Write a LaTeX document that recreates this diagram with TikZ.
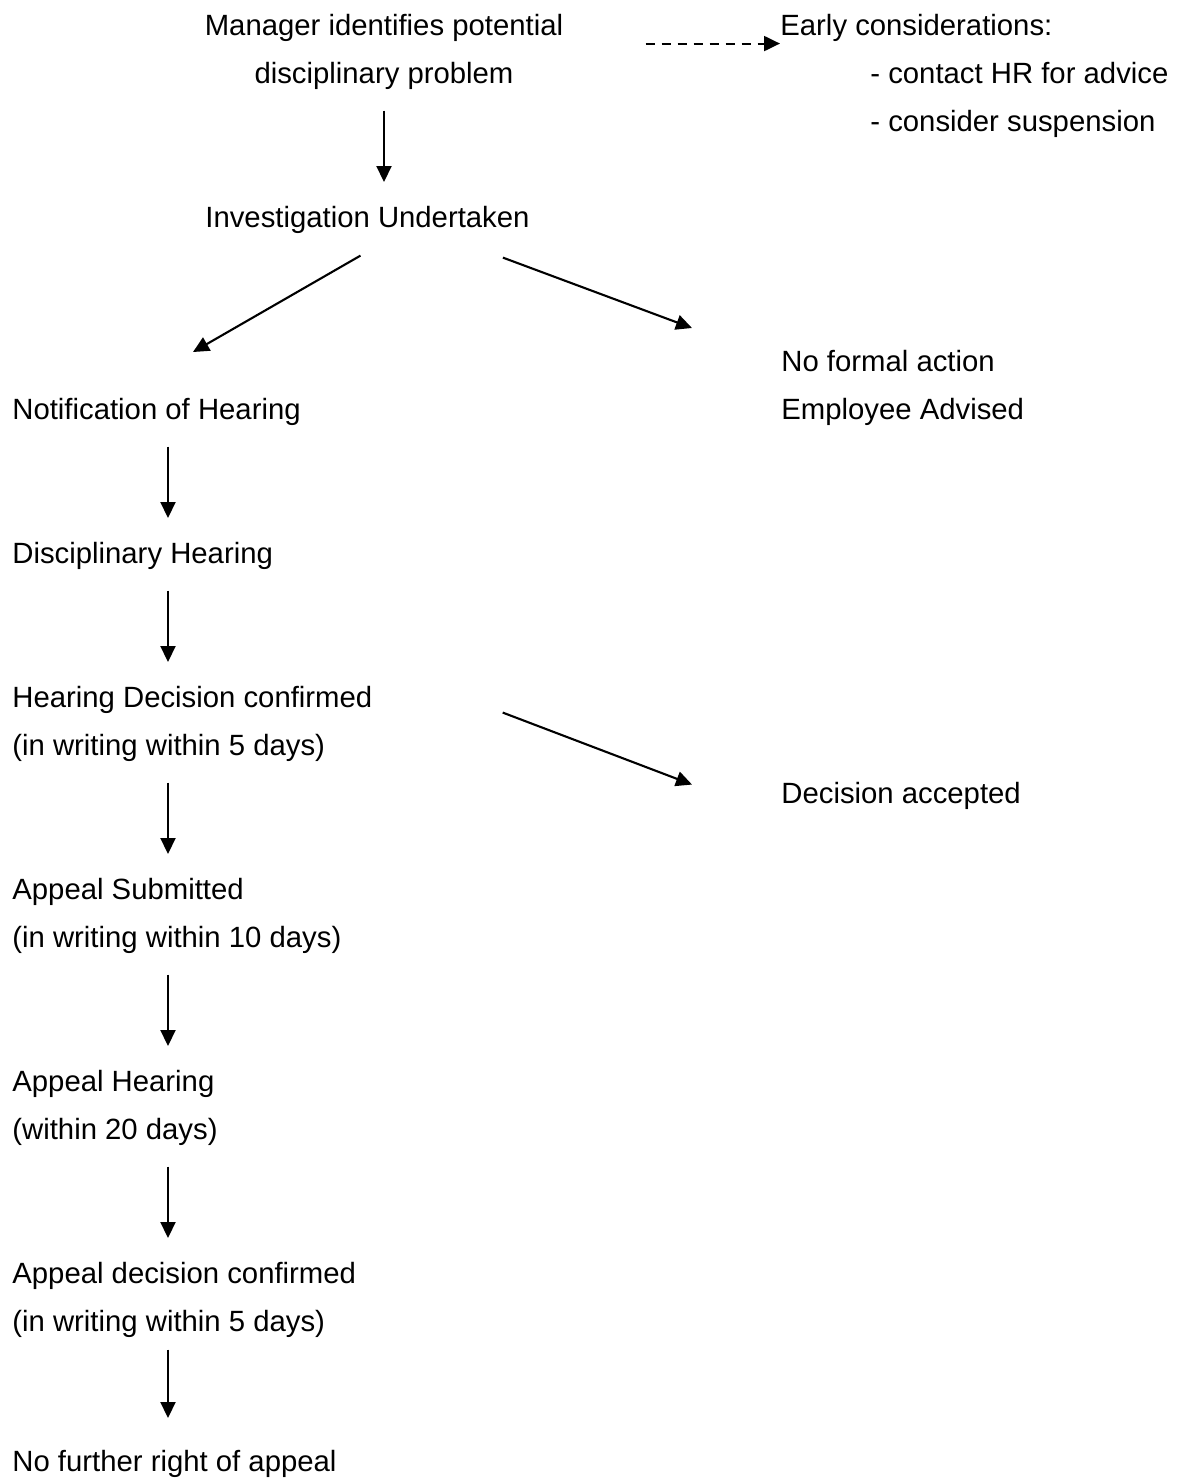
\documentclass[tikz,border=0pt]{standalone}
\usepackage{fontspec}
\setmainfont{Liberation Sans}
\usetikzlibrary{arrows.meta}

\tikzset{
  txt/.style={inner sep=0pt, anchor=north west, align=left, font=\fontsize{14.65pt}{24pt}\selectfont},
  arr/.style={-{Triangle[length=8pt,width=7.5pt]}, line width=1.05pt},
  down/.style={arr, shorten <=10.5pt, shorten >=11.75pt},
  dasharr/.style={arr, dash pattern=on 4.5pt off 3.5pt}
}

\begin{document}
\begin{tikzpicture}[x=0.5pt, y=-0.5pt]
        \useasboundingbox (0,0) rectangle (1184,1479);

        % start of the procedure
        \node[txt, anchor=north, align=center] (mgr) at (384,13.5) {Manager identifies potential\\disciplinary problem};
        \node[txt] (early) at (780,13.5) {Early considerations:\\\hspace*{45pt}- contact HR for advice\\\hspace*{45pt}- consider suspension};
        \node[txt] (inv) at (205,205.5) {Investigation Undertaken};

        % outcomes of the investigation
        \node[txt] (notif) at (12,397.5) {Notification of Hearing};
        \node[txt] (nfa) at (781,349.5) {No formal action\\Employee Advised};

        % hearing and appeal
        \node[txt] (disc) at (12,541.5) {Disciplinary Hearing};
        \node[txt] (hdec) at (12,685.5) {Hearing Decision confirmed\\(in writing within 5 days)};
        \node[txt] (dacc) at (781,781.5) {Decision accepted};
        \node[txt] (asub) at (12,877.5) {Appeal Submitted\\(in writing within 10 days)};
        \node[txt] (ahear) at (12,1069.5) {Appeal Hearing\\(within 20 days)};
        \node[txt] (adec) at (12,1261.5) {Appeal decision confirmed\\(in writing within 5 days)};
        \node[txt] (nfur) at (12,1449.5) {No further right of appeal};

        \draw[dasharr] ([xshift=41pt,yshift=4pt]mgr.east) -- ([yshift=4pt]mgr.east -| early.west);
        \draw[down] (mgr.south) -- (mgr.south |- inv.north);
        \draw[arr] ([shift={(-7,22)}]inv.south) -- ([shift={(181,-45.5)}]notif.north west);
        \draw[arr] ([shift={(-27,24)}]inv.south east) -- ([shift={(-89,-21.5)}]nfa.north west);

        \draw[down] ([xshift=78pt]notif.south west) -- ([xshift=78pt]disc.north west);
        \draw[down] ([xshift=78pt]disc.south west) -- ([xshift=78pt]hdec.north west);
        \draw[arr] ([shift={(130,-11)}]hdec.east) -- ([shift={(-89,-11)}]dacc.west);
        \draw[down] ([xshift=78pt]hdec.south west) -- ([xshift=78pt]asub.north west);
        \draw[down] ([xshift=78pt]asub.south west) -- ([xshift=78pt]ahear.north west);
        \draw[down] ([xshift=78pt]ahear.south west) -- ([xshift=78pt]adec.north west);
        \draw[arr, shorten <=6pt, shorten >=15.75pt] ([xshift=78pt]adec.south west) -- ([xshift=78pt]nfur.north west);
\end{tikzpicture}
\end{document}
